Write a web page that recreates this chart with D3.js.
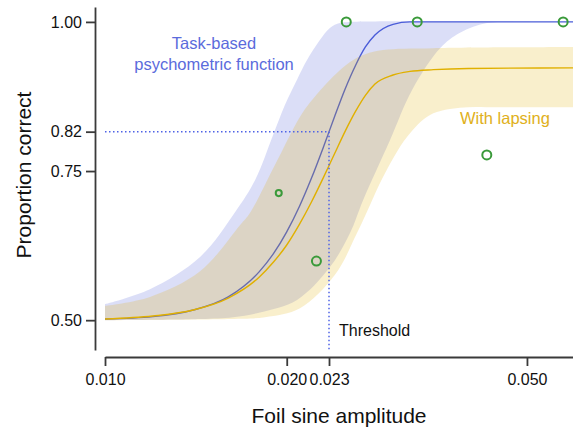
<!DOCTYPE html>
<meta charset="utf-8">
<style>
body { margin: 0; background: #fff; }
svg text { font-family: "Liberation Sans", Arial, Helvetica, sans-serif; }
.axis path, .axis line { stroke: #3a3a3a; stroke-width: 1.8px; }
.axis text { font-size: 16px; fill: #111; }
</style>
<svg width="573" height="432"></svg>
<script src="https://d3js.org/d3.v7.min.js"></script>
<script>

// fitted curves: [foil amplitude, proportion correct]
var taskCurve = [[0.010,0.502],[0.012,0.506],[0.014,0.517],[0.016,0.539],[0.018,0.581],[0.019,0.611],
  [0.020,0.648],[0.021,0.691],[0.022,0.739],[0.023,0.790],[0.024,0.841],[0.025,0.888],[0.026,0.927],
  [0.027,0.958],[0.028,0.978],[0.030,0.996],[0.032,1.0],[0.035,1.0],[0.0596,1.0]];
var lapseCurve = [[0.010,0.502],[0.012,0.507],[0.014,0.517],[0.016,0.537],[0.018,0.572],[0.019,0.597],
  [0.020,0.626],[0.021,0.661],[0.022,0.699],[0.023,0.739],[0.024,0.779],[0.025,0.817],[0.026,0.850],
  [0.027,0.877],[0.028,0.896],[0.030,0.911],[0.032,0.917],[0.035,0.920],[0.040,0.922],[0.0596,0.923]];

// confidence bands
var taskUpper = [[0.010,0.527],[0.01187,0.552],[0.01437,0.606],[0.01642,0.681],[0.01773,0.735],
  [0.01898,0.810],[0.01987,0.861],[0.02080,0.903],[0.02161,0.936],[0.02271,0.970],[0.02358,0.990],
  [0.02450,0.998],[0.02546,1.0],[0.0596,1.0]];
var taskLower = [[0.010,0.500],[0.01437,0.502],[0.01630,0.505],[0.01806,0.513],[0.02080,0.534],
  [0.02358,0.589],[0.02546,0.646],[0.02676,0.701],[0.02966,0.802],[0.03226,0.886],[0.03589,0.956],
  [0.03873,0.982],[0.04293,0.998],[0.04688,1.0],[0.0596,1.0]];
var lapseUpper = [[0.010,0.524],[0.01187,0.539],[0.01437,0.582],[0.01673,0.659],[0.01739,0.680],
  [0.01912,0.760],[0.02104,0.841],[0.02203,0.869],[0.02385,0.908],[0.02546,0.933],[0.02697,0.946],
  [0.02888,0.953],[0.03494,0.956],[0.0596,0.958]];
var lapseLower = [[0.010,0.500],[0.01612,0.502],[0.01841,0.505],[0.02104,0.520],[0.02404,0.576],
  [0.02615,0.646],[0.02748,0.693],[0.02888,0.740],[0.03164,0.807],[0.03455,0.844],[0.03873,0.856],
  [0.04511,0.857],[0.0596,0.857]];

// observed data
var ptX = [0.0194, 0.0224, 0.0251, 0.0329, 0.0429, 0.0574];
var ptY = [0.713, 0.599, 1.0, 1.0, 0.777, 1.0];
var ptN = [9, 20, 20, 20, 20, 20];

var threshold = 0.0235, threshP = 0.816;
var xTicks = [0.010, 0.020, 0.0235, 0.050];
var xTickLabels = ["0.010", "0.020", "0.023", "0.050"];
var yTicks = [0.50, 0.75, 0.816, 1.00];
var yTickLabels = ["0.50", "0.75", "0.82", "1.00"];

var svg = d3.select("svg");

var x = d3.scaleLog().domain([0.01, 0.0596]).range([105, 573]);
var y = d3.scaleLinear().domain([0.45, 1.025]).range([350, 7]);
var r = d3.scaleSqrt().domain([0, 20]).range([0, 4.5]);

var blue = "#4a5cd8", gold = "#e0b000";

var edge = d3.line().x(function(d) { return x(d[0]); }).y(function(d) { return y(d[1]); })
    .curve(d3.curveCatmullRom.alpha(0.5));
var curve = d3.line().x(function(d) { return x(d[0]); }).y(function(d) { return y(d[1]); })
    .curve(d3.curveMonotoneX);

function band(up, lo) {
  return edge(up) + edge(lo.slice().reverse()).replace(/^M/, "L") + "Z";
}

svg.append("path").attr("d", band(taskUpper, taskLower))
    .attr("fill", blue).attr("fill-opacity", 0.2);
svg.append("path").attr("d", curve(taskCurve))
    .attr("fill", "none").attr("stroke", blue).attr("stroke-width", 1.4);
svg.append("path").attr("d", band(lapseUpper, lapseLower))
    .attr("fill", gold).attr("fill-opacity", 0.2);
svg.append("path").attr("d", curve(lapseCurve))
    .attr("fill", "none").attr("stroke", gold).attr("stroke-width", 1.4);

// threshold guides
svg.append("line")
    .attr("x1", x(0.01)).attr("x2", x(threshold))
    .attr("y1", y(threshP)).attr("y2", y(threshP))
    .attr("stroke", "#4f63e6").attr("stroke-width", 1.5).attr("stroke-dasharray", "1.5,2.5");
svg.append("line")
    .attr("x1", x(threshold)).attr("x2", x(threshold))
    .attr("y1", y(threshP)).attr("y2", y(0.45))
    .attr("stroke", "#4f63e6").attr("stroke-width", 1.5).attr("stroke-dasharray", "1.5,2.5");

svg.selectAll("circle.pt")
  .data(ptX)
  .enter().append("circle")
    .attr("class", "pt")
    .attr("cx", function(d) { return x(d); })
    .attr("cy", function(d, i) { return y(ptY[i]); })
    .attr("r", function(d, i) { return r(ptN[i]); })
    .attr("fill", "none").attr("stroke", "#3a9a3a").attr("stroke-width", 2);

// axes
svg.append("g").attr("class", "axis")
    .attr("transform", "translate(95,0)")
    .call(d3.axisLeft(y).tickValues(yTicks).tickSize(9).tickSizeOuter(0).tickPadding(4)
      .tickFormat(function(d, i) { return yTickLabels[i]; }));
svg.append("g").attr("class", "axis")
    .attr("transform", "translate(0,357)")
    .call(d3.axisBottom(x).tickValues(xTicks).tickSize(9).tickSizeOuter(0).tickPadding(8)
      .tickFormat(function(d, i) { return xTickLabels[i]; }))
  .selectAll("text").attr("font-size", 16.8);

svg.append("text").attr("x", 339).attr("y", 423).attr("text-anchor", "middle")
    .attr("font-size", 21).attr("fill", "#111").text("Foil sine amplitude");
svg.append("text").attr("transform", "translate(31,175) rotate(-90)").attr("text-anchor", "middle")
    .attr("font-size", 21).attr("fill", "#111").text("Proportion correct");

// annotations
svg.append("text").attr("x", 214).attr("y", 49).attr("text-anchor", "middle")
    .attr("font-size", 16.5).attr("fill", "#5b6bdc").text("Task-based");
svg.append("text").attr("x", 214).attr("y", 70).attr("text-anchor", "middle")
    .attr("font-size", 16.5).attr("fill", "#5b6bdc").text("psychometric function");
svg.append("text").attr("x", 460).attr("y", 124)
    .attr("font-size", 16.5).attr("fill", "#e0b020").text("With lapsing");
svg.append("text").attr("x", 339).attr("y", 336)
    .attr("font-size", 16).attr("fill", "#111").text("Threshold");

</script>
